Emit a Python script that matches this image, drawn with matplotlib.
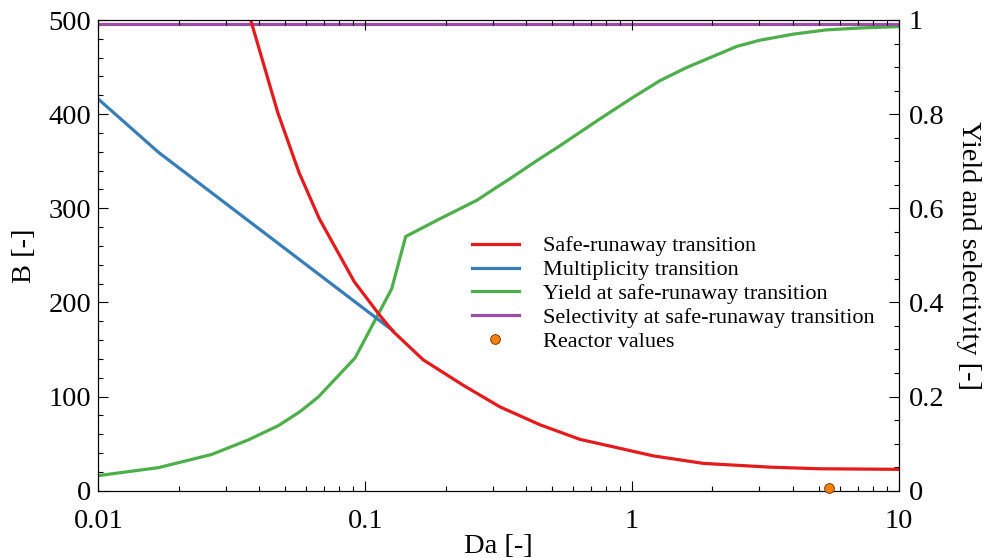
import matplotlib

matplotlib.use("Agg")
import matplotlib.pyplot as plt
from matplotlib.lines import Line2D
from matplotlib.ticker import FuncFormatter, LogLocator, MultipleLocator

plt.rcParams["font.family"] = "serif"
plt.rcParams["font.serif"] = ["Liberation Serif", "DejaVu Serif"]

# ---- data ----
da_runaway = [0.034, 0.0376, 0.047, 0.0565, 0.0673, 0.091, 0.1136, 0.1274, 0.165,
              0.233, 0.32, 0.452, 0.638, 0.901, 1.2, 1.85, 3.29, 5.05, 10]
b_runaway = [538, 496, 402, 338, 289, 222, 186, 169, 139,
             112, 89, 70, 54.5, 45, 37, 29, 25, 23.3, 22.7]

da_multi = [0.01, 0.0168, 0.1274]
b_multi = [416, 359.5, 169.7]

da_yield = [0.01, 0.0168, 0.0266, 0.0365, 0.0472, 0.057, 0.0667, 0.0916, 0.1257,
            0.1418, 0.191, 0.2265, 0.262, 0.302, 0.349, 0.439, 0.537, 0.758,
            1.01, 1.27, 1.60, 2.47, 3.01, 4.02, 5.35, 7.14, 10]
yield_vals = [0.032, 0.049, 0.077, 0.108, 0.138, 0.168, 0.199, 0.282, 0.429,
              0.540, 0.578, 0.599, 0.617, 0.640, 0.663, 0.701, 0.733, 0.790,
              0.836, 0.871, 0.899, 0.944, 0.957, 0.970, 0.979, 0.983, 0.986]

da_select = [0.01, 0.1, 1, 10]
select_vals = [0.991, 0.991, 0.991, 0.991]

da_reactor = [5.48]
b_reactor = [2.5]

RED = "#e41a1c"
BLUE = "#377eb8"
GREEN = "#4daf4a"
PURPLE = "#984ea3"
ORANGE = "#ff7f00"
LW = 2.3

fig = plt.figure(figsize=(9.85, 5.58), dpi=100)
ax = fig.add_axes([98.3 / 985, 1 - 490.7 / 558, 800.7 / 985, 470.7 / 558])
ax2 = ax.twinx()

ax.plot(da_multi, b_multi, color=BLUE, lw=LW)
ax.plot(da_runaway, b_runaway, color=RED, lw=LW)
ax2.plot(da_yield, yield_vals, color=GREEN, lw=LW)
ax2.plot(da_select, select_vals, color=PURPLE, lw=LW)
ax.plot(da_reactor, b_reactor, "o", color=ORANGE, mec="#5a2d00", mew=0.6, ms=7,
        zorder=5, clip_on=False)
ax.set_zorder(ax2.get_zorder() + 1)
ax.patch.set_visible(False)

ax.set_xscale("log")
ax.set_xlim(0.01, 10)
ax.set_ylim(0, 500)
ax2.set_ylim(0, 1)

ax.xaxis.set_major_locator(LogLocator(base=10))
ax.xaxis.set_minor_locator(LogLocator(base=10, subs=range(2, 10)))
ax.xaxis.set_major_formatter(FuncFormatter(lambda v, p: "%g" % v))
ax.yaxis.set_major_locator(MultipleLocator(100))
ax.yaxis.set_minor_locator(MultipleLocator(20))
ax2.yaxis.set_major_locator(MultipleLocator(0.2))
ax2.yaxis.set_minor_locator(MultipleLocator(0.05))
ax2.yaxis.set_major_formatter(FuncFormatter(lambda v, p: "%g" % round(v, 2)))

ax.tick_params(which="both", direction="in", top=True, labelsize=20.5, width=0.8)
ax.tick_params(which="major", length=7)
ax.tick_params(which="minor", length=3.3)
ax.tick_params(axis="x", pad=13)
ax.tick_params(axis="y", pad=5)
ax2.tick_params(which="both", direction="in", labelsize=20.5, width=0.8, pad=7)
ax2.tick_params(which="major", length=7)
ax2.tick_params(which="minor", length=3.3)

ax.set_xlabel("Da [-]", fontsize=20.5, labelpad=0)
ax.set_ylabel("B [-]", fontsize=20.5, labelpad=8)
ax2.set_ylabel("Yield and selectivity [-]", fontsize=20.5, rotation=270, labelpad=26)

handles = [
    Line2D([], [], color=RED, lw=LW),
    Line2D([], [], color=BLUE, lw=LW),
    Line2D([], [], color=GREEN, lw=LW),
    Line2D([], [], color=PURPLE, lw=LW),
    Line2D([], [], ls="none", marker="o", color=ORANGE, mec="#5a2d00", mew=0.6, ms=7),
]
labels = ["Safe-runaway transition", "Multiplicity transition",
          "Yield at safe-runaway transition", "Selectivity at safe-runaway transition",
          "Reactor values"]
ax.legend(handles, labels, loc="center left", bbox_to_anchor=(0.4667, 0.418),
          frameon=False, fontsize=16, handlelength=2.1, handletextpad=1.1,
          labelspacing=0.15, borderpad=0, borderaxespad=0)

fig.savefig("out.png", dpi=100)
